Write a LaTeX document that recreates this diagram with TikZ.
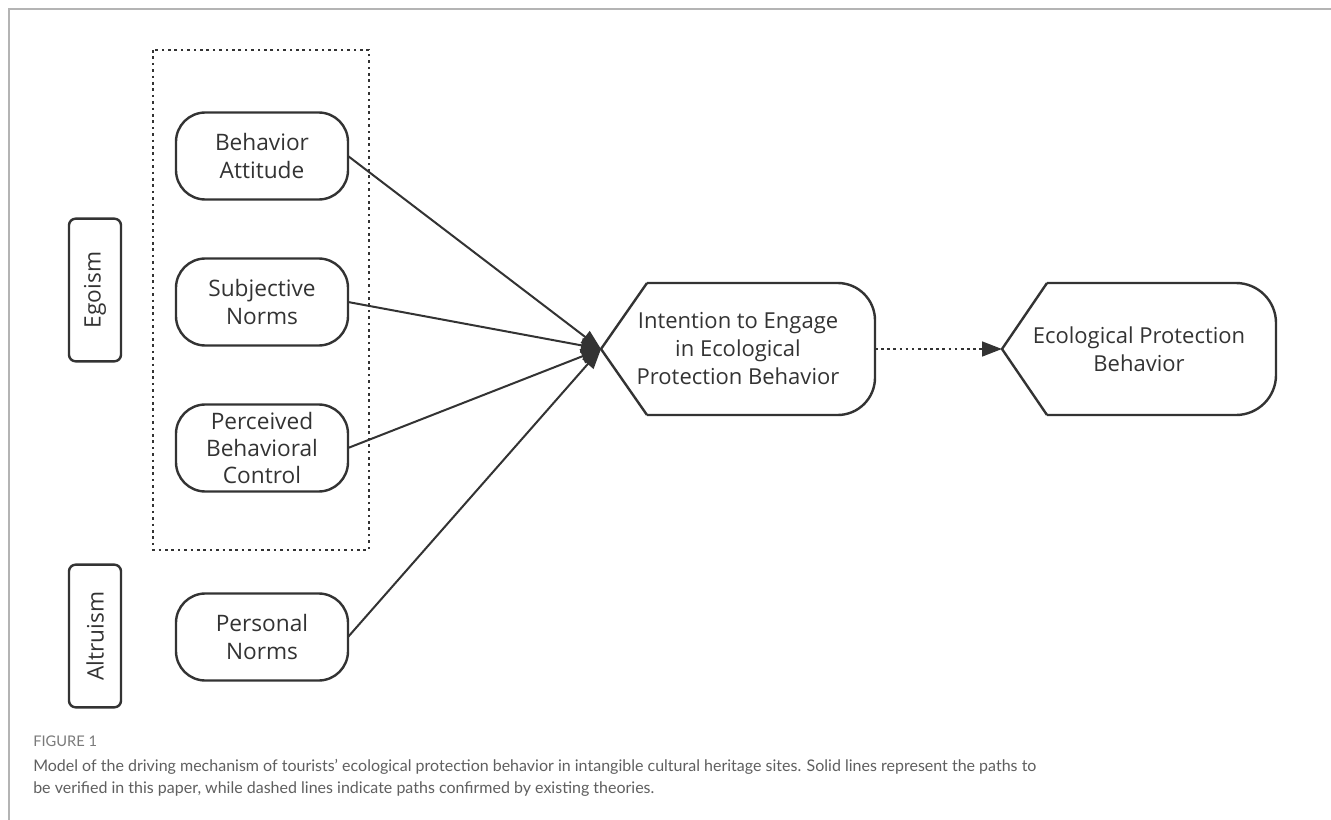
\documentclass[tikz,border=0pt]{standalone}
\usepackage{fontspec}
\setmainfont{Open Sans}
\newfontfamily\captionfont{Lato}
\usetikzlibrary{positioning}
\usetikzlibrary{arrows.meta}
\usetikzlibrary{calc}

\definecolor{ink}{HTML}{333333}
\definecolor{capgray}{HTML}{5F5F5F}
\definecolor{labelgray}{HTML}{7A7A7A}
\definecolor{framegray}{HTML}{B4B4B4}

\tikzset{
  factor/.style={draw=ink, line width=1.8pt, rounded corners=22pt, minimum width=129pt, minimum height=65.25pt,
    align=center, text=ink, font=\fontsize{17}{20.5}\selectfont, inner sep=0pt, outer sep=0pt},
  motive/.style={draw=ink, line width=1.8pt, rounded corners=5pt, minimum width=107pt, minimum height=39pt,
    text=ink, font=\fontsize{17}{20.5}\selectfont, inner sep=0pt, outer sep=0pt, rotate=90},
  target/.style={minimum width=205.5pt, minimum height=99pt, align=center, text=ink,
    font=\fontsize{16.5}{21}\selectfont, inner sep=0pt, outer sep=0pt},
  outline/.style={draw=ink, line width=1.8pt},
  link/.style={draw=ink, line width=1.5pt, -{Triangle[length=15pt,width=11pt]}},
  dottedlink/.style={link, line width=2pt, dash pattern=on 2pt off 2.6pt},
  groupbox/.style={draw=ink, line width=2pt, dash pattern=on 2pt off 2.8pt},
  capline/.style={anchor=base west, inner sep=0pt, text=capgray, font=\captionfont\fontsize{12}{16}\selectfont},
}

\begin{document}
\begin{tikzpicture}[x=0.75pt, y=-0.75pt]
    \useasboundingbox[fill=white] (0,0) rectangle (1331,820);
    \draw[framegray, line width=0.9pt] (9,820) -- (9,9) -- (1331,9);

    % factors of the planned behaviour
    \node[factor] (attitude) at (262,156) {Behavior\\Attitude};
    \node[factor, below=44.25pt of attitude] (subjective) {Subjective\\Norms};
    \node[factor, below=44.25pt of subjective] (control) {Perceived\\Behavioral\\Control};
    \node[factor, below=76.5pt of control] (personal) {Personal\\Norms};

    \draw[groupbox] (153,50) rectangle (369,550);

    \node[motive] (egoism) at (95,290) {Egoism};
    \node[motive] (altruism) at (95,636) {Altruism};

    % intention and behaviour
    \node[target] (intention) at (738,349) {Intention to Engage\\in Ecological\\Protection Behavior};
    \node[target, right=95.25pt of intention] (behavior) {Ecological Protection\\Behavior};

    \draw[outline] ([xshift=34.5pt]intention.south west) -- (intention.west) -- ([xshift=34.5pt]intention.north west);
    \draw[outline, rounded corners=28pt] ([xshift=34.5pt]intention.north west) -- (intention.north east)
        -- (intention.south east) -- ([xshift=34.5pt]intention.south west);
    \draw[outline] ([xshift=33.75pt]behavior.south west) -- (behavior.west) -- ([xshift=33.75pt]behavior.north west);
    \draw[outline, rounded corners=30pt] ([xshift=33.75pt]behavior.north west) -- (behavior.north east)
        -- (behavior.south east) -- ([xshift=33.75pt]behavior.south west);

    \draw[link] (attitude.east) -- (intention.west);
    \draw[link] (subjective.east) -- (intention.west);
    \draw[link] (control.east) -- (intention.west);
    \draw[link] (personal.east) -- (intention.west);
    \draw[dottedlink] (intention.east) -- (behavior.west);

    % caption
    \node[capline, text=labelgray, font=\captionfont\fontsize{11}{13}\selectfont] (figno) at (33,746) {FIGURE 1};
    \node[capline] (caption1) at (33,771) {Model of the driving mechanism of tourists’ ecological protection behavior in intangible cultural heritage sites. Solid lines represent the paths to};
    \node[capline] (caption2) at (33,793) {be verified in this paper, while dashed lines indicate paths confirmed by existing theories.};
\end{tikzpicture}
\end{document}
